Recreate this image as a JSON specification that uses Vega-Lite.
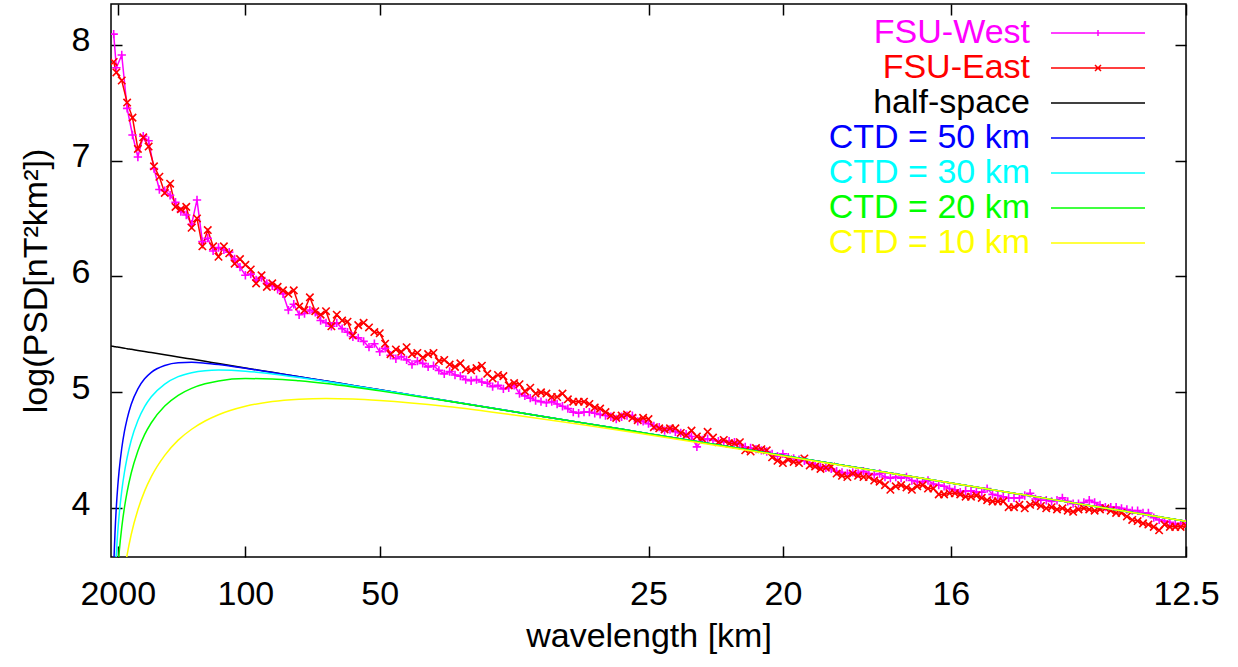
{
"$schema": "https://vega.github.io/schema/vega-lite/v6.json",
"autosize": {"type": "none"},
"padding": {"left": 111, "top": 4, "right": 52, "bottom": 110},
"width": 1075,
"height": 553,
"background": "white",
"config": {
  "font": "Liberation Sans",
  "view": {"stroke": "black", "strokeWidth": 1.5},
  "axis": {"grid": false, "domain": false, "tickColor": "black", "tickWidth": 1.5, "tickSize": -11,
    "labelFont": "Liberation Sans", "labelFontSize": 34, "labelColor": "black",
    "titleFont": "Liberation Sans", "titleFontSize": 34, "titleFontWeight": "normal", "titleColor": "black",
    "labelFlush": false, "labelOverlap": false}
},
"datasets": {
"obs": [
{"k":0.0002,"west":8.09,"east":7.85},{"k":0.0004,"west":7.80,"east":7.76},{"k":0.0008,"west":7.91,"east":7.69},{"k":0.0012,"west":7.45,"east":7.50},{"k":0.0016,"west":7.22,"east":7.37},
{"k":0.002,"west":7.03,"east":7.10},{"k":0.0024,"west":7.21,"east":7.20},{"k":0.0028,"west":7.17,"east":7.12},{"k":0.0032,"west":6.93,"east":6.95},{"k":0.0036,"west":6.75,"east":6.86},
{"k":0.004,"west":6.74,"east":6.72},{"k":0.0044,"west":6.70,"east":6.80},{"k":0.0048,"west":6.64,"east":6.60},{"k":0.0052,"west":6.56,"east":6.58},{"k":0.0056,"west":6.53,"east":6.60},
{"k":0.006,"west":6.45,"east":6.42},{"k":0.0064,"west":6.66,"east":6.50},{"k":0.0068,"west":6.30,"east":6.26},{"k":0.0072,"west":6.33,"east":6.40},{"k":0.0076,"west":6.22,"east":6.26},
{"k":0.008,"west":6.25,"east":6.17},{"k":0.0084,"west":6.23,"east":6.26},{"k":0.0088,"west":6.21,"east":6.20},{"k":0.0092,"west":6.15,"east":6.11},{"k":0.0096,"west":6.08,"east":6.15},
{"k":0.01,"west":6.01,"east":6.10},{"k":0.0104,"west":6.02,"east":6.06},{"k":0.0108,"west":5.97,"east":5.94},{"k":0.0112,"west":5.99,"east":6.01},{"k":0.0116,"west":5.94,"east":5.91},
{"k":0.012,"west":5.92,"east":5.94},{"k":0.0124,"west":5.89,"east":5.91},{"k":0.0128,"west":5.85,"east":5.88},{"k":0.0132,"west":5.71,"east":5.85},{"k":0.0136,"west":5.76,"east":5.88},
{"k":0.014,"west":5.67,"east":5.74},{"k":0.0144,"west":5.68,"east":5.71},{"k":0.0148,"west":5.71,"east":5.82},{"k":0.0152,"west":5.69,"east":5.70},{"k":0.0156,"west":5.62,"east":5.67},
{"k":0.016,"west":5.60,"east":5.70},{"k":0.0164,"west":5.57,"east":5.57},{"k":0.0168,"west":5.60,"east":5.67},{"k":0.0172,"west":5.55,"east":5.62},{"k":0.0176,"west":5.52,"east":5.61},
{"k":0.018,"west":5.48,"east":5.49},{"k":0.0184,"west":5.47,"east":5.58},{"k":0.0188,"west":5.44,"east":5.60},{"k":0.0192,"west":5.39,"east":5.56},{"k":0.0196,"west":5.42,"east":5.52},
{"k":0.02,"west":5.35,"east":5.51},{"k":0.0204,"west":5.38,"east":5.42},{"k":0.0208,"west":5.32,"east":5.33},{"k":0.0212,"west":5.29,"east":5.37},{"k":0.0216,"west":5.31,"east":5.35},
{"k":0.022,"west":5.28,"east":5.39},{"k":0.0224,"west":5.24,"east":5.33},{"k":0.0228,"west":5.27,"east":5.34},{"k":0.0232,"west":5.25,"east":5.30},{"k":0.0236,"west":5.22,"east":5.33},
{"k":0.024,"west":5.23,"east":5.34},{"k":0.0244,"west":5.19,"east":5.27},{"k":0.0248,"west":5.16,"east":5.28},{"k":0.0252,"west":5.18,"east":5.24},{"k":0.0256,"west":5.15,"east":5.22},
{"k":0.026,"west":5.14,"east":5.25},{"k":0.0264,"west":5.11,"east":5.20},{"k":0.0268,"west":5.10,"east":5.19},{"k":0.0272,"west":5.11,"east":5.21},{"k":0.0276,"west":5.09,"east":5.23},
{"k":0.028,"west":5.08,"east":5.16},{"k":0.0284,"west":5.05,"east":5.12},{"k":0.0288,"west":5.06,"east":5.15},{"k":0.0292,"west":5.03,"east":5.14},{"k":0.0296,"west":5.04,"east":5.06},
{"k":0.03,"west":5.06,"east":5.08},{"k":0.0304,"west":4.99,"east":5.07},{"k":0.0308,"west":4.97,"east":5.01},{"k":0.0312,"west":4.95,"east":5.04},{"k":0.0316,"west":4.93,"east":4.99},
{"k":0.032,"west":4.92,"east":5.00},{"k":0.0324,"west":4.91,"east":4.99},{"k":0.0328,"west":4.92,"east":4.96},{"k":0.0332,"west":4.90,"east":4.96},{"k":0.0336,"west":4.88,"east":4.99},
{"k":0.034,"west":4.86,"east":4.94},{"k":0.0344,"west":4.83,"east":4.92},{"k":0.0348,"west":4.82,"east":4.92},{"k":0.0352,"west":4.83,"east":4.92},{"k":0.0356,"west":4.83,"east":4.90},
{"k":0.036,"west":4.82,"east":4.87},{"k":0.0364,"west":4.81,"east":4.86},{"k":0.0368,"west":4.80,"east":4.83},{"k":0.0372,"west":4.79,"east":4.80},{"k":0.0376,"west":4.77,"east":4.78},
{"k":0.038,"west":4.79,"east":4.80},{"k":0.0384,"west":4.80,"east":4.81},{"k":0.0388,"west":4.80,"east":4.78},{"k":0.0392,"west":4.75,"east":4.76},{"k":0.0396,"west":4.75,"east":4.78},
{"k":0.04,"west":4.73,"east":4.77},{"k":0.0404,"west":4.71,"east":4.70},{"k":0.0408,"west":4.70,"east":4.69},{"k":0.0412,"west":4.67,"east":4.68},{"k":0.0416,"west":4.68,"east":4.69},
{"k":0.042,"west":4.66,"east":4.69},{"k":0.0424,"west":4.65,"east":4.65},{"k":0.0428,"west":4.64,"east":4.63},{"k":0.0432,"west":4.62,"east":4.67},{"k":0.0436,"west":4.53,"east":4.62},
{"k":0.044,"west":4.59,"east":4.60},{"k":0.0444,"west":4.60,"east":4.66},{"k":0.0448,"west":4.59,"east":4.61},{"k":0.0452,"west":4.58,"east":4.57},{"k":0.0456,"west":4.57,"east":4.59},
{"k":0.046,"west":4.58,"east":4.56},{"k":0.0464,"west":4.57,"east":4.56},{"k":0.0468,"west":4.55,"east":4.57},{"k":0.0472,"west":4.53,"east":4.50},{"k":0.0476,"west":4.52,"east":4.49},
{"k":0.048,"west":4.51,"east":4.52},{"k":0.0484,"west":4.50,"east":4.51},{"k":0.0488,"west":4.49,"east":4.50},{"k":0.0492,"west":4.47,"east":4.44},{"k":0.0496,"west":4.45,"east":4.41},
{"k":0.05,"west":4.47,"east":4.39},{"k":0.0504,"west":4.44,"east":4.42},{"k":0.0508,"west":4.43,"east":4.40},{"k":0.0512,"west":4.42,"east":4.39},{"k":0.0516,"west":4.41,"east":4.43},
{"k":0.052,"west":4.39,"east":4.37},{"k":0.0524,"west":4.38,"east":4.36},{"k":0.0528,"west":4.36,"east":4.34},{"k":0.0532,"west":4.35,"east":4.35},{"k":0.0536,"west":4.34,"east":4.36},
{"k":0.054,"west":4.32,"east":4.30},{"k":0.0544,"west":4.31,"east":4.28},{"k":0.0548,"west":4.30,"east":4.27},{"k":0.0552,"west":4.31,"east":4.30},{"k":0.0556,"west":4.30,"east":4.28},
{"k":0.056,"west":4.32,"east":4.27},{"k":0.0564,"west":4.30,"east":4.27},{"k":0.0568,"west":4.29,"east":4.24},{"k":0.0572,"west":4.30,"east":4.23},{"k":0.0576,"west":4.27,"east":4.20},
{"k":0.058,"west":4.26,"east":4.16},{"k":0.0584,"west":4.27,"east":4.19},{"k":0.0588,"west":4.26,"east":4.20},{"k":0.0592,"west":4.27,"east":4.18},{"k":0.0596,"west":4.24,"east":4.16},
{"k":0.06,"west":4.23,"east":4.19},{"k":0.0604,"west":4.23,"east":4.20},{"k":0.0608,"west":4.24,"east":4.17},{"k":0.0612,"west":4.21,"east":4.17},{"k":0.0616,"west":4.20,"east":4.12},
{"k":0.062,"west":4.19,"east":4.12},{"k":0.0624,"west":4.17,"east":4.13},{"k":0.0628,"west":4.16,"east":4.13},{"k":0.0632,"west":4.14,"east":4.12},{"k":0.0636,"west":4.15,"east":4.10},
{"k":0.064,"west":4.15,"east":4.10},{"k":0.0644,"west":4.14,"east":4.11},{"k":0.0648,"west":4.14,"east":4.09},{"k":0.0652,"west":4.17,"east":4.07},{"k":0.0656,"west":4.12,"east":4.06},
{"k":0.066,"west":4.11,"east":4.06},{"k":0.0664,"west":4.10,"east":4.06},{"k":0.0668,"west":4.09,"east":4.01},{"k":0.0672,"west":4.09,"east":4.01},{"k":0.0676,"west":4.09,"east":4.03},
{"k":0.068,"west":4.11,"east":4.00},{"k":0.0684,"west":4.13,"east":4.03},{"k":0.0688,"west":4.08,"east":4.04},{"k":0.0692,"west":4.07,"east":4.02},{"k":0.0696,"west":4.07,"east":4.00},
{"k":0.07,"west":4.06,"east":4.01},{"k":0.0704,"west":4.07,"east":3.99},{"k":0.0708,"west":4.09,"east":4.00},{"k":0.0712,"west":4.06,"east":3.98},{"k":0.0716,"west":4.04,"east":3.97},
{"k":0.072,"west":4.04,"east":3.99},{"k":0.0724,"west":4.05,"east":4.00},{"k":0.0728,"west":4.07,"east":3.99},{"k":0.0732,"west":4.05,"east":3.98},{"k":0.0736,"west":4.03,"east":3.99},
{"k":0.074,"west":4.01,"east":4.00},{"k":0.0744,"west":4.01,"east":3.98},{"k":0.0748,"west":4.01,"east":3.96},{"k":0.0752,"west":4.00,"east":3.96},{"k":0.0756,"west":3.99,"east":3.93},
{"k":0.076,"west":3.98,"east":3.90},{"k":0.0764,"west":3.98,"east":3.89},{"k":0.0768,"west":3.96,"east":3.87},{"k":0.0772,"west":3.96,"east":3.86},{"k":0.0776,"west":3.92,"east":3.84},
{"k":0.078,"west":3.90,"east":3.81},{"k":0.0784,"west":3.89,"east":3.86},{"k":0.0788,"west":3.88,"east":3.84},{"k":0.0792,"west":3.86,"east":3.84},{"k":0.0796,"west":3.87,"east":3.84},
{"k":0.08,"west":3.87,"east":3.85}
],
"model": [
{"k":0,"half-space":5.400},
{"k":0.0001,"half-space":5.398,"CTD = 50 km":2.893,"CTD = 30 km":2.459,"CTD = 20 km":2.112,"CTD = 10 km":1.514},
{"k":0.0002,"half-space":5.396,"CTD = 50 km":3.468,"CTD = 30 km":3.044,"CTD = 20 km":2.702,"CTD = 10 km":2.110},
{"k":0.0003,"half-space":5.394,"CTD = 50 km":3.794,"CTD = 30 km":3.379,"CTD = 20 km":3.042,"CTD = 10 km":2.455},
{"k":0.0004,"half-space":5.392,"CTD = 50 km":4.018,"CTD = 30 km":3.613,"CTD = 20 km":3.280,"CTD = 10 km":2.698},
{"k":0.0005,"half-space":5.391,"CTD = 50 km":4.186,"CTD = 30 km":3.791,"CTD = 20 km":3.463,"CTD = 10 km":2.886},
{"k":0.0006,"half-space":5.389,"CTD = 50 km":4.319,"CTD = 30 km":3.933,"CTD = 20 km":3.610,"CTD = 10 km":3.037},
{"k":0.0008,"half-space":5.385,"CTD = 50 km":4.518,"CTD = 30 km":4.150,"CTD = 20 km":3.836,"CTD = 10 km":3.273},
{"k":0.001,"half-space":5.381,"CTD = 50 km":4.663,"CTD = 30 km":4.311,"CTD = 20 km":4.007,"CTD = 10 km":3.453},
{"k":0.0012,"half-space":5.377,"CTD = 50 km":4.772,"CTD = 30 km":4.437,"CTD = 20 km":4.142,"CTD = 10 km":3.598},
{"k":0.0015,"half-space":5.372,"CTD = 50 km":4.896,"CTD = 30 km":4.585,"CTD = 20 km":4.302,"CTD = 10 km":3.772},
{"k":0.002,"half-space":5.362,"CTD = 50 km":5.031,"CTD = 30 km":4.757,"CTD = 20 km":4.495,"CTD = 10 km":3.988},
{"k":0.0025,"half-space":5.353,"CTD = 50 km":5.117,"CTD = 30 km":4.877,"CTD = 20 km":4.635,"CTD = 10 km":4.148},
{"k":0.003,"half-space":5.343,"CTD = 50 km":5.173,"CTD = 30 km":4.962,"CTD = 20 km":4.738,"CTD = 10 km":4.273},
{"k":0.004,"half-space":5.324,"CTD = 50 km":5.232,"CTD = 30 km":5.072,"CTD = 20 km":4.882,"CTD = 10 km":4.457},
{"k":0.005,"half-space":5.306,"CTD = 50 km":5.256,"CTD = 30 km":5.136,"CTD = 20 km":4.975,"CTD = 10 km":4.588},
{"k":0.006,"half-space":5.287,"CTD = 50 km":5.259,"CTD = 30 km":5.170,"CTD = 20 km":5.035,"CTD = 10 km":4.682},
{"k":0.007,"half-space":5.268,"CTD = 50 km":5.252,"CTD = 30 km":5.187,"CTD = 20 km":5.074,"CTD = 10 km":4.753},
{"k":0.008,"half-space":5.249,"CTD = 50 km":5.240,"CTD = 30 km":5.192,"CTD = 20 km":5.099,"CTD = 10 km":4.807},
{"k":0.01,"half-space":5.211,"CTD = 50 km":5.208,"CTD = 30 km":5.183,"CTD = 20 km":5.119,"CTD = 10 km":4.880},
{"k":0.012,"half-space":5.173,"CTD = 50 km":5.172,"CTD = 30 km":5.159,"CTD = 20 km":5.116,"CTD = 10 km":4.921},
{"k":0.014,"half-space":5.135,"CTD = 50 km":5.135,"CTD = 30 km":5.128,"CTD = 20 km":5.100,"CTD = 10 km":4.941},
{"k":0.016,"half-space":5.098,"CTD = 50 km":5.098,"CTD = 30 km":5.094,"CTD = 20 km":5.076,"CTD = 10 km":4.948},
{"k":0.018,"half-space":5.060,"CTD = 50 km":5.060,"CTD = 30 km":5.058,"CTD = 20 km":5.046,"CTD = 10 km":4.943},
{"k":0.02,"half-space":5.022,"CTD = 50 km":5.022,"CTD = 30 km":5.021,"CTD = 20 km":5.013,"CTD = 10 km":4.930},
{"k":0.025,"half-space":4.928,"CTD = 50 km":4.928,"CTD = 30 km":4.928,"CTD = 20 km":4.925,"CTD = 10 km":4.878},
{"k":0.03,"half-space":4.833,"CTD = 50 km":4.833,"CTD = 30 km":4.833,"CTD = 20 km":4.832,"CTD = 10 km":4.805},
{"k":0.035,"half-space":4.739,"CTD = 50 km":4.739,"CTD = 30 km":4.739,"CTD = 20 km":4.739,"CTD = 10 km":4.723},
{"k":0.04,"half-space":4.644,"CTD = 50 km":4.644,"CTD = 30 km":4.644,"CTD = 20 km":4.644,"CTD = 10 km":4.635},
{"k":0.05,"half-space":4.455,"CTD = 50 km":4.455,"CTD = 30 km":4.455,"CTD = 20 km":4.455,"CTD = 10 km":4.452},
{"k":0.06,"half-space":4.266,"CTD = 50 km":4.266,"CTD = 30 km":4.266,"CTD = 20 km":4.266,"CTD = 10 km":4.265},
{"k":0.07,"half-space":4.077,"CTD = 50 km":4.077,"CTD = 30 km":4.077,"CTD = 20 km":4.077,"CTD = 10 km":4.077},
{"k":0.08,"half-space":3.888,"CTD = 50 km":3.888,"CTD = 30 km":3.888,"CTD = 20 km":3.888,"CTD = 10 km":3.888}
]
},
"resolve": {"axis": {"x": "independent", "y": "independent"}},
"layer": [
{
  "data": {"name": "obs"},
  "transform": [{"fold": ["west", "east"], "as": ["s", "v"]}],
  "mark": {"type": "line", "strokeWidth": 1.5, "clip": true},
  "encoding": {
    "x": {"field": "k", "type": "quantitative",
      "scale": {"domain": [0, 0.08], "nice": false, "zero": false},
      "axis": {"orient": "bottom", "values": [0.0005, 0.01, 0.02, 0.04, 0.05, 0.0625, 0.08],
        "labelExpr": "format(1/datum.value, '.4~g')", "labelBaseline": "alphabetic", "labelPadding": 58,
        "title": "wavelength [km]", "titleX": 537.5, "titleY": 89, "titleBaseline": "alphabetic", "titleAlign": "center"}},
    "y": {"field": "v", "type": "quantitative",
      "scale": {"domain": [3.58, 8.35], "nice": false, "zero": false},
      "axis": {"orient": "left", "values": [4, 5, 6, 7, 8], "labelPadding": 32, "labelOffset": -4,
        "title": "log(PSD[nT²km²])", "titleX": -65, "titleY": 276.5, "titleAngle": 270, "titleBaseline": "alphabetic", "titleAlign": "center"}},
    "color": {"field": "s", "type": "nominal",
      "scale": {"domain": ["west", "east", "half-space", "CTD = 50 km", "CTD = 30 km", "CTD = 20 km", "CTD = 10 km"],
        "range": ["#ff00ff", "#ff0000", "#000000", "#0000ff", "#00ffff", "#00ff00", "#ffff00"]},
      "legend": {"title": null, "orient": "none", "legendX": 970, "legendY": 12, "padding": 0,
        "symbolType": "stroke", "symbolSize": 100, "symbolStrokeWidth": 1.5,
        "labelFont": "Liberation Sans", "labelFontSize": 34, "labelAlign": "right", "labelOffset": -85, "labelLimit": 500,
        "rowPadding": 1,
        "labelExpr": "datum.label == 'west' ? 'FSU-West' : (datum.label == 'east' ? 'FSU-East' : datum.label)",
        "encode": {
          "labels": {"update": {"fill": {"scale": "color", "field": "value"}}},
          "symbols": {"update": {"shape": {"signal": "datum.value === 'west' ? 'M-9.4,0L9.4,0M0,-0.6L0,0.6' : (datum.value === 'east' ? 'M-9.4,0L9.4,0M-0.6,-0.6L0.6,0.6M-0.6,0.6L0.6,-0.6' : 'M-9.4,0L9.4,0')"}}}
        }}}
  }
},
{
  "data": {"name": "obs"},
  "mark": {"type": "point", "shape": "M-1,0L1,0M0,-1L0,1", "size": 70, "filled": false, "strokeWidth": 1.6, "color": "#ff00ff", "opacity": 1, "clip": true},
  "encoding": {
    "x": {"field": "k", "type": "quantitative", "scale": {"domain": [0, 0.08], "nice": false, "zero": false}, "axis": null},
    "y": {"field": "west", "type": "quantitative", "scale": {"domain": [3.58, 8.35], "nice": false, "zero": false}, "axis": null}
  }
},
{
  "data": {"name": "obs"},
  "mark": {"type": "point", "shape": "M-1,-1L1,1M-1,1L1,-1", "size": 55, "filled": false, "strokeWidth": 1.6, "color": "#ff0000", "opacity": 1, "clip": true},
  "encoding": {
    "x": {"field": "k", "type": "quantitative", "scale": {"domain": [0, 0.08], "nice": false, "zero": false}, "axis": null},
    "y": {"field": "east", "type": "quantitative", "scale": {"domain": [3.58, 8.35], "nice": false, "zero": false}, "axis": null}
  }
},
{
  "data": {"name": "model"},
  "transform": [{"fold": ["half-space", "CTD = 50 km", "CTD = 30 km", "CTD = 20 km", "CTD = 10 km"], "as": ["s", "v"]}],
  "mark": {"type": "line", "strokeWidth": 1.5, "clip": true, "interpolate": "monotone"},
  "encoding": {
    "x": {"field": "k", "type": "quantitative", "scale": {"domain": [0, 0.08], "nice": false, "zero": false},
      "axis": {"orient": "top", "values": [0.0005, 0.01, 0.02, 0.04, 0.05, 0.0625, 0.08], "labels": false, "title": null}},
    "y": {"field": "v", "type": "quantitative", "scale": {"domain": [3.58, 8.35], "nice": false, "zero": false},
      "axis": {"orient": "right", "values": [4, 5, 6, 7, 8], "labels": false, "title": null}},
    "color": {"field": "s", "type": "nominal",
      "scale": {"domain": ["west", "east", "half-space", "CTD = 50 km", "CTD = 30 km", "CTD = 20 km", "CTD = 10 km"],
        "range": ["#ff00ff", "#ff0000", "#000000", "#0000ff", "#00ffff", "#00ff00", "#ffff00"]},
      "legend": {"title": null, "orient": "none", "legendX": 970, "legendY": 12, "padding": 0,
        "symbolType": "stroke", "symbolSize": 100, "symbolStrokeWidth": 1.5,
        "labelFont": "Liberation Sans", "labelFontSize": 34, "labelAlign": "right", "labelOffset": -85, "labelLimit": 500,
        "rowPadding": 1,
        "labelExpr": "datum.label == 'west' ? 'FSU-West' : (datum.label == 'east' ? 'FSU-East' : datum.label)",
        "encode": {
          "labels": {"update": {"fill": {"scale": "color", "field": "value"}}},
          "symbols": {"update": {"shape": {"signal": "datum.value === 'west' ? 'M-9.4,0L9.4,0M0,-0.6L0,0.6' : (datum.value === 'east' ? 'M-9.4,0L9.4,0M-0.6,-0.6L0.6,0.6M-0.6,0.6L0.6,-0.6' : 'M-9.4,0L9.4,0')"}}}
        }}}
  }
}
]
}
